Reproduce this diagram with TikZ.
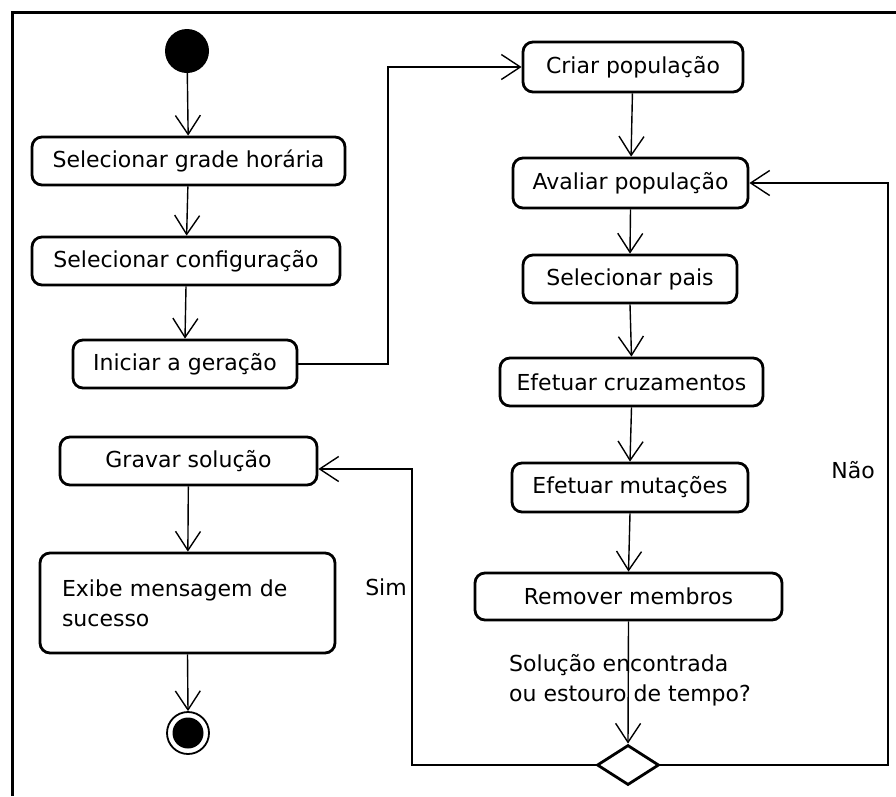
\documentclass[tikz,border=0pt]{standalone}
\usepackage{fontspec}
\setmainfont{DejaVu Sans}
\usetikzlibrary{arrows.meta,shapes.geometric}
\begin{document}
\begin{tikzpicture}[x=1pt,y=-1pt,
  every node/.style={font=\fontsize{22}{30}\selectfont},
  action/.style={draw,line width=2.8pt,rounded corners=10pt,inner sep=0pt,
    fill=white,align=center},
  flow/.style={line width=1.4pt,-{Straight Barb[length=19pt,width=25pt,line width=1.4pt]}},
  label/.style={inner sep=0pt}]
\useasboundingbox (0,0) rectangle (896,796);
% frame edges
\draw[line width=3pt] (12,796) -- (12,12) -- (896,12);

% left column
\node[circle,fill=black,minimum size=44pt,inner sep=0pt] (start) at (187,51) {};
\node[action,minimum width=313pt,minimum height=48pt] (grade) at (188.5,161) {Selecionar grade horária};
\node[action,minimum width=308pt,minimum height=48pt] (conf) at (186,261) {Selecionar configuração};
\node[action,minimum width=224pt,minimum height=48pt] (iniciar) at (185,364) {Iniciar a geração};

\node[action,minimum width=257pt,minimum height=48pt] (gravar) at (188.5,461) {Gravar solução};
\node[action,minimum width=295pt,minimum height=100pt,text width=251pt,align=left] (exibe) at (187.5,603) {Exibe mensagem de\\sucesso};
\node[circle,draw,line width=1.8pt,minimum size=42pt,inner sep=0pt] (fim) at (188,733) {};
\node[circle,fill=black,minimum size=31pt,inner sep=0pt] (fimin) at (188,733) {};

% right column
\node[action,minimum width=220pt,minimum height=50pt] (criar) at (633,67) {Criar população};
\node[action,minimum width=235pt,minimum height=50pt] (avaliar) at (630.5,183) {Avaliar população};
\node[action,minimum width=214pt,minimum height=48pt] (pais) at (630,279) {Selecionar pais};
\node[action,minimum width=263pt,minimum height=48pt] (cruz) at (631.5,382) {Efetuar cruzamentos};
\node[action,minimum width=236pt,minimum height=49pt] (mut) at (630,487.5) {Efetuar mutações};
\node[action,minimum width=307pt,minimum height=47pt] (remover) at (628.5,596.5) {Remover membros};
\node[diamond,draw,line width=2.8pt,minimum width=62pt,minimum height=40pt,inner sep=0pt,fill=white] (dec) at (628,765) {};

% bend points of the routed connectors
\coordinate (jx) at (388,0);
\coordinate (nx) at (888,0);
\coordinate (sx) at (412,0);
\coordinate (gin) at ([yshift=-8pt]gravar.east);

% connectors
\draw[flow] (start) -- (grade);
\draw[flow] (grade) -- (conf);
\draw[flow] (conf.south) -- (iniciar.north);
\draw[flow] (iniciar.east) -- (jx |- iniciar.east) -- (jx |- criar.west) -- (criar.west);
\draw[flow] (criar) -- (avaliar);
\draw[flow] (avaliar.south) -- (pais.north);
\draw[flow] (pais.south) -- (cruz.north);
\draw[flow] (cruz.south) -- (mut.north);
\draw[flow] (mut.south) -- (remover.north);
\draw[flow] (remover.south) -- (dec.north);
\draw[flow] (dec.east) -- (nx |- dec.east) -- (nx |- avaliar.east) -- (avaliar.east);
\draw[flow] (dec.west) -- (sx |- dec.west) -- (sx |- gin) -- (gin);
\draw[flow] (gravar) -- (exibe);
\draw[flow] (exibe.south) -- (fim.north);

% guard labels
\node[label] (nao) at (853,470) {Não};
\node[label] (sim) at (386,587) {Sim};
\node[label,anchor=north west,align=left] (cond) at (509,654) {Solução encontrada\\ou estouro de tempo?};
\end{tikzpicture}
\end{document}
